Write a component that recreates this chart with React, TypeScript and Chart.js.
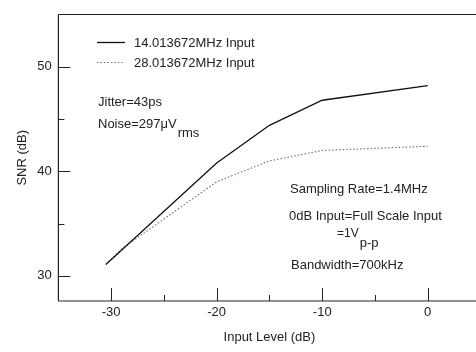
import React, { useEffect, useRef } from "react";
import { Chart, registerables } from "chart.js";

Chart.register(...registerables);

// ---- data ----
const inputLevel14 = [-30.5, -20, -15, -10, 0];
const snr14 = [31.1, 40.8, 44.4, 46.8, 48.2];
const inputLevel28 = [-30.5, -29, -20, -15, -10, 0];
const snr28 = [31.1, 32.6, 39.0, 41.0, 42.0, 42.4];
const seriesLabels = ["14.013672MHz Input", "28.013672MHz Input"];
const xMajorTicks = [-30, -20, -10, 0];
const xMinorTicks = [-25, -15, -5];
const yMajorTicks = [30, 40, 50];
const yMinorTicks = [35, 45];
const xTitle = "Input Level (dB)";
const yTitle = "SNR (dB)";
const noteJitter = "Jitter=43ps";
const noteNoise = "Noise=297\u03BCV";
const noteNoiseSub = "rms";
const noteSampling = "Sampling Rate=1.4MHz";
const noteFullScale = "0dB Input=Full Scale Input";
const noteVolt = "=1V";
const noteVoltSub = "p-p";
const noteBandwidth = "Bandwidth=700kHz";

const FONT = "'Liberation Sans', Arial, Helvetica, sans-serif";
const INK = "#222";

const decorPlugin = {
  id: "decor",
  afterDraw(chart: any) {
    const { ctx, chartArea, scales } = chart;
    const xs = scales.x;
    const ys = scales.y;
    ctx.save();
    ctx.strokeStyle = INK;
    ctx.lineWidth = 1.2;
    // frame: left, top, bottom
    ctx.beginPath();
    ctx.moveTo(chartArea.left, chartArea.top);
    ctx.lineTo(chartArea.left, chartArea.bottom);
    ctx.moveTo(chartArea.left, chartArea.top);
    ctx.lineTo(chartArea.right + 5, chartArea.top);
    ctx.moveTo(chartArea.left, chartArea.bottom);
    ctx.lineTo(chartArea.right + 5, chartArea.bottom);
    ctx.stroke();
    // inward ticks
    ctx.lineWidth = 1;
    ctx.beginPath();
    yMajorTicks.forEach((v) => {
      const p = Math.round(ys.getPixelForValue(v)) + 0.5;
      ctx.moveTo(chartArea.left, p);
      ctx.lineTo(chartArea.left + 12, p);
    });
    yMinorTicks.forEach((v) => {
      const p = Math.round(ys.getPixelForValue(v)) + 0.5;
      ctx.moveTo(chartArea.left, p);
      ctx.lineTo(chartArea.left + 6, p);
    });
    xMajorTicks.forEach((v) => {
      const p = Math.round(xs.getPixelForValue(v)) + 0.5;
      ctx.moveTo(p, chartArea.bottom);
      ctx.lineTo(p, chartArea.bottom - 13);
    });
    xMinorTicks.forEach((v) => {
      const p = Math.round(xs.getPixelForValue(v)) + 0.5;
      ctx.moveTo(p, chartArea.bottom);
      ctx.lineTo(p, chartArea.bottom - 6);
    });
    ctx.stroke();

    // legend
    const ds = chart.data.datasets;
    const legendRows = [42.5, 62.5];
    ds.forEach((d: any, i: number) => {
      const y = legendRows[i];
      ctx.save();
      ctx.strokeStyle = d.borderColor;
      ctx.lineWidth = d.borderWidth;
      ctx.setLineDash(d.borderDash || []);
      ctx.beginPath();
      ctx.moveTo(97, y);
      ctx.lineTo(125, y);
      ctx.stroke();
      ctx.restore();
    });
    ctx.fillStyle = INK;
    ctx.font = `13px ${FONT}`;
    ctx.textAlign = "left";
    ctx.textBaseline = "alphabetic";
    ds.forEach((d: any, i: number) => {
      ctx.fillText(d.label, 134, legendRows[i] + 4.5);
    });

    // notes
    ctx.fillText(noteJitter, 98, 106);
    ctx.fillText(noteNoise, 98, 128);
    const wN = ctx.measureText(noteNoise).width;
    ctx.fillText(noteNoiseSub, 98 + wN + 1, 137);

    ctx.fillText(noteSampling, 290, 193);
    ctx.fillText(noteFullScale, 289, 219.5);
    ctx.fillText(noteBandwidth, 291, 268.5);
    ctx.font = `12px ${FONT}`;
    ctx.fillText(noteVolt, 337, 236.5);
    const wV = ctx.measureText(noteVolt).width;
    ctx.font = `13px ${FONT}`;
    ctx.fillText(noteVoltSub, 337 + wV + 1, 246.5);
    ctx.restore();
  },
};

export default function App() {
  const canvasRef = useRef<HTMLCanvasElement | null>(null);

  useEffect(() => {
    const canvas = canvasRef.current;
    if (!canvas) return;
    const chart = new Chart(canvas, {
      type: "line",
      data: {
        datasets: [
          {
            label: seriesLabels[0],
            data: inputLevel14.map((x, i) => ({ x, y: snr14[i] })),
            borderColor: "#111",
            borderWidth: 1.3,
            pointRadius: 0,
            tension: 0,
            fill: false,
          },
          {
            label: seriesLabels[1],
            data: inputLevel28.map((x, i) => ({ x, y: snr28[i] })),
            borderColor: "#777",
            borderWidth: 1.2,
            borderDash: [1.5, 2],
            pointRadius: 0,
            tension: 0,
            fill: false,
          },
        ],
      },
      options: {
        responsive: false,
        animation: false,
        devicePixelRatio: 1,
        layout: { padding: { top: 8, right: 19.5, left: 0, bottom: 0 } },
        plugins: { legend: { display: false }, tooltip: { enabled: false } },
        scales: {
          x: {
            type: "linear",
            min: -35,
            max: 5,
            grid: { display: false, drawTicks: false },
            border: { display: false },
            afterBuildTicks: (scale: any) => {
              scale.ticks = xMajorTicks.map((v) => ({ value: v }));
            },
            afterFit: (scale: any) => {
              scale.height = 51;
            },
            ticks: {
              padding: 4,
              color: INK,
              font: { family: FONT, size: 13 },
              callback: (v: any) => String(v),
            },
            title: {
              display: true,
              text: xTitle,
              color: INK,
              font: { family: FONT, size: 13 },
              padding: { top: 0, bottom: 7 },
            },
          },
          y: {
            type: "linear",
            min: 27.6,
            max: 55,
            grid: { display: false, drawTicks: false },
            border: { display: false },
            afterBuildTicks: (scale: any) => {
              scale.ticks = yMajorTicks.map((v) => ({ value: v }));
            },
            afterFit: (scale: any) => {
              scale.width = 58.4;
            },
            ticks: {
              padding: 6.7,
              color: INK,
              font: { family: FONT, size: 13 },
              callback: (v: any) => String(v),
            },
            title: {
              display: true,
              text: yTitle,
              color: INK,
              font: { family: FONT, size: 13 },
              padding: { top: 15, bottom: 0 },
            },
          },
        },
      },
      plugins: [decorPlugin],
    } as any);
    return () => chart.destroy();
  }, []);

  return (
    <div
      style={{
        position: "fixed",
        left: 0,
        top: 0,
        width: 476,
        height: 352,
        overflow: "hidden",
        background: "#fff",
      }}
    >
      <canvas ref={canvasRef} width={500} height={352} style={{ display: "block" }} />
    </div>
  );
}
